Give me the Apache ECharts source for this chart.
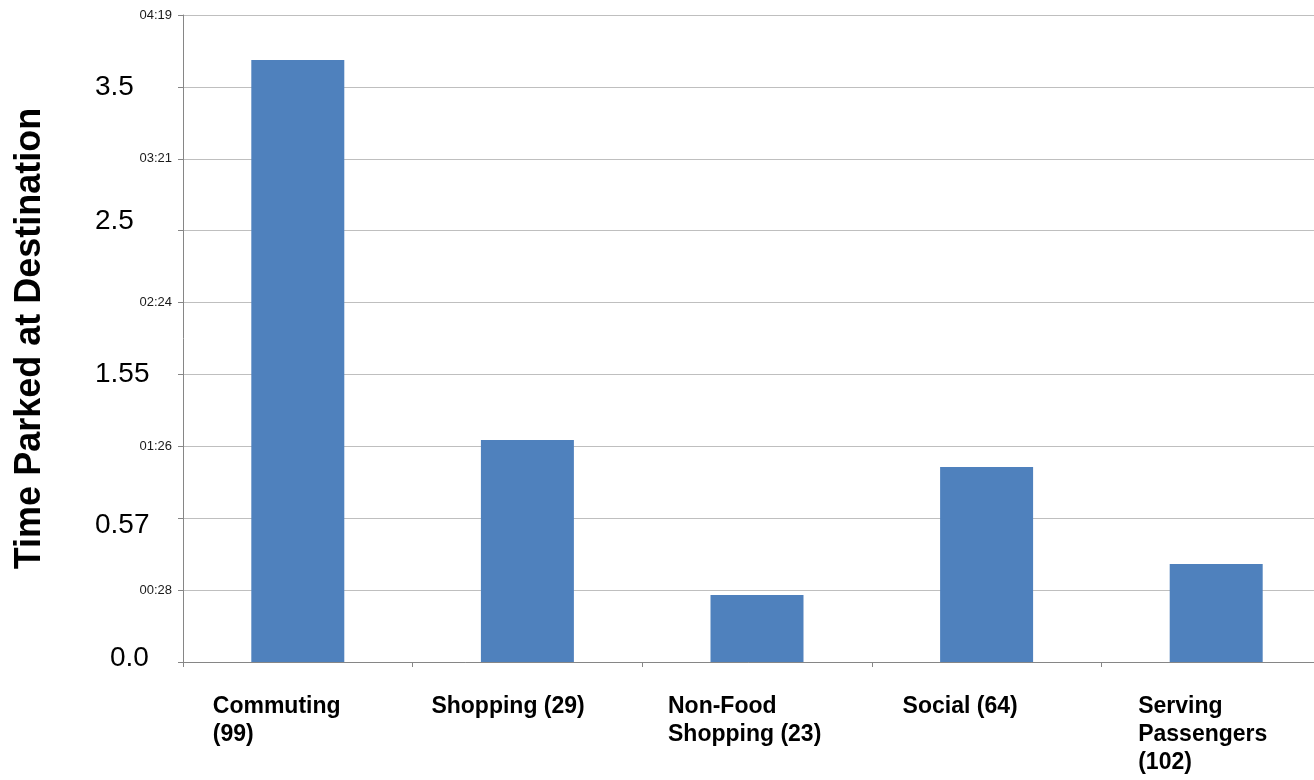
<!DOCTYPE html>
<html>
<head>
<meta charset="utf-8">
<style>
  html, body { margin: 0; padding: 0; background: #ffffff; }
  #chart { width: 1314px; height: 780px; }
</style>
<script src="https://cdn.jsdelivr.net/npm/echarts@6/dist/echarts.min.js"></script>
</head>
<body>
<div id="chart"></div>
<script>
// ---- data ----
const categories = ['Commuting (99)', 'Shopping (29)', 'Non-Food Shopping (23)', 'Social (64)', 'Serving Passengers (102)'];
const categoryLabelLines = [
  ['Commuting', '(99)'],
  ['Shopping (29)'],
  ['Non-Food', 'Shopping (23)'],
  ['Social (64)'],
  ['Serving', 'Passengers', '(102)']
];
const minutesParked = [241.2, 88.9, 26.8, 78.1, 39.3];
const tickIntervalMinutes = 28.8;
const axisMaxMinutes = 259.2;
const tickLabels = ['0.0', '00:28', '0.57', '01:26', '1.55', '02:24', '2.5', '03:21', '3.5', '04:19'];
const yAxisTitle = 'Time Parked at Destination';

// ---- styles ----
const labelOffsetX = [-85, -96, -89, -84, -78];
const bigStyles = {
  b0: { width: 62, padding: [0, 0, 8, 15] },
  b2: { width: 77, padding: [14, 0, 0, 0] },
  b4: { width: 77, padding: [0, 0, 0, 0] },
  b6: { width: 77, padding: [0, 0, 18, 0] },
  b8: { width: 77, padding: [0, 0, 0, 0] }
};
const rich = {
  s: { fontSize: 13, color: '#1a1a1a', fontFamily: 'Liberation Sans, Arial, sans-serif' }
};
Object.keys(bigStyles).forEach(k => {
  rich[k] = Object.assign({
    fontSize: 28, color: '#000', align: 'left',
    fontFamily: 'Liberation Sans, Arial, sans-serif'
  }, bigStyles[k]);
});

const chart = echarts.init(document.getElementById('chart'), null, { renderer: 'canvas' });

const option = {
  animation: false,
  backgroundColor: '#ffffff',
  grid: { left: 183, top: 15, width: 1148, height: 647, containLabel: false, outerBoundsMode: 'none' },
  xAxis: {
    type: 'category',
    data: categories,
    axisLine: { lineStyle: { color: '#868686', width: 1 } },
    axisTick: { show: true, length: 5, lineStyle: { color: '#868686' } },
    axisLabel: { show: false },
    splitLine: { show: false }
  },
  yAxis: {
    type: 'value',
    min: 0,
    max: axisMaxMinutes,
    interval: tickIntervalMinutes,
    name: yAxisTitle,
    nameLocation: 'middle',
    nameGap: 135,
    nameRotate: 90,
    nameTextStyle: { fontSize: 36, fontWeight: 'bold', color: '#000', fontFamily: 'Liberation Sans, Arial, sans-serif' },
    axisLine: { show: true, lineStyle: { color: '#868686', width: 1 } },
    axisTick: { show: true, length: 5, lineStyle: { color: '#868686' } },
    splitLine: { show: true, lineStyle: { color: '#bfbfbf', width: 1 } },
    axisLabel: {
      margin: 11,
      align: 'right',
      formatter: function (v) {
        const i = Math.round(v / tickIntervalMinutes);
        const t = tickLabels[i] || '';
        if (i % 2 === 1) return '{s|' + t + '}';
        return '{b' + i + '|' + t + '}';
      },
      rich: rich
    }
  },
  series: [{
    type: 'bar',
    data: minutesParked,
    barWidth: '40.5%',
    itemStyle: { color: '#4f81bd' }
  }]
};
chart.setOption(option);

const graphics = categories.map((c, i) => {
  const cx = chart.convertToPixel({ xAxisIndex: 0 }, c);
  return {
    type: 'text',
    left: cx + labelOffsetX[i],
    top: 693,
    style: {
      text: categoryLabelLines[i].join('\n'),
      font: 'bold 23px "Liberation Sans", Arial, sans-serif',
      lineHeight: 28,
      fill: '#000',
      align: 'left'
    }
  };
});
chart.setOption({ graphic: graphics });
</script>
</body>
</html>
